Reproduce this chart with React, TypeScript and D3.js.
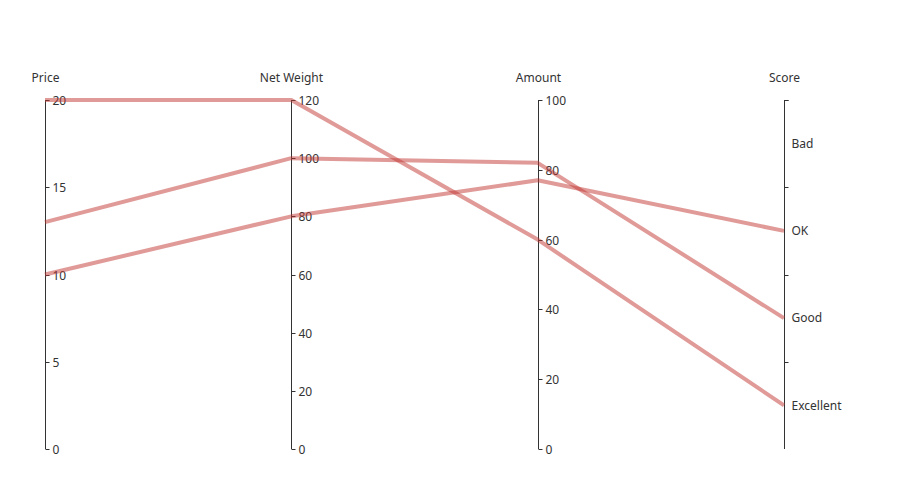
import React from "react";
import * as d3 from "d3";

const dimensions = ["Price", "Net Weight", "Amount", "Score"];
const scoreCategories = ["Excellent", "Good", "OK", "Bad"];
const priceTicks = [0, 5, 10, 15, 20];
const weightTicks = [0, 20, 40, 60, 80, 100, 120];
const amountTicks = [0, 20, 40, 60, 80, 100];
const priceValues = [20, 13, 10];
const weightValues = [120, 100, 80];
const amountValues = [60, 82, 77];
const scoreValues = ["Excellent", "Good", "OK"];

const W = 900;
const H = 500;
const top = 100;
const bottom = 449;
const FONT = "'Noto Sans', 'Open Sans', sans-serif";

export default function App() {
  const x = d3.scalePoint<string>().domain(dimensions).range([45, 784]);
  const yPrice = d3.scaleLinear().domain([0, 20]).range([bottom, top]);
  const yWeight = d3.scaleLinear().domain([0, 120]).range([bottom, top]);
  const yAmount = d3.scaleLinear().domain([0, 100]).range([bottom, top]);
  const yScore = d3.scaleBand<string>().domain(scoreCategories).range([bottom, top]);

  const linear = [
    { name: "Price", scale: yPrice, ticks: priceTicks },
    { name: "Net Weight", scale: yWeight, ticks: weightTicks },
    { name: "Amount", scale: yAmount, ticks: amountTicks },
  ];

  const rows = priceValues.map((p, i) => [
    [x("Price")!, yPrice(p)],
    [x("Net Weight")!, yWeight(weightValues[i])],
    [x("Amount")!, yAmount(amountValues[i])],
    [x("Score")!, yScore(scoreValues[i])! + yScore.bandwidth() / 2],
  ] as [number, number][]);

  const line = d3.line();
  const scoreBoundaries = scoreCategories.map((c) => yScore(c)!).concat([top]);

  return (
    <svg width={W} height={H} style={{ position: "absolute", left: 0, top: 0, background: "#fff" }} fontFamily={FONT}>
      {linear.map((a) => {
        const ax = Math.round(x(a.name)!) + 0.5;
        return (
          <g key={a.name}>
            <line x1={ax} x2={ax} y1={top} y2={bottom} stroke="#333" strokeWidth={1} />
            {a.ticks.map((t) => {
              const ty = Math.round(a.scale(t)) + 0.5;
              return (
                <g key={t}>
                  <line x1={ax} x2={ax + 4} y1={ty} y2={ty} stroke="#333" />
                  <text x={ax + 7} y={ty} dy="0.35em" fontSize={12} fill="#333">{t}</text>
                </g>
              );
            })}
            <text x={ax} y={top - 18} fontSize={12} fill="#333" textAnchor="middle">{a.name}</text>
          </g>
        );
      })}
      {(() => {
        const ax = Math.round(x("Score")!) + 0.5;
        return (
          <g>
            <line x1={ax} x2={ax} y1={top} y2={bottom} stroke="#333" />
            {scoreBoundaries.map((b, i) => (
              <line key={i} x1={ax} x2={ax + 4} y1={Math.round(b) + 0.5} y2={Math.round(b) + 0.5} stroke="#333" />
            ))}
            {scoreCategories.map((c) => (
              <text key={c} x={ax + 7} y={yScore(c)! + yScore.bandwidth() / 2} dy="0.35em" fontSize={12} fill="#333">{c}</text>
            ))}
            <text x={ax} y={top - 18} fontSize={12} fill="#333" textAnchor="middle">Score</text>
          </g>
        );
      })()}
      {rows.map((r, i) => (
        <path key={i} d={line(r)!} fill="none" stroke="#c23531" strokeOpacity={0.5} strokeWidth={4} strokeLinejoin="round" />
      ))}
    </svg>
  );
}
